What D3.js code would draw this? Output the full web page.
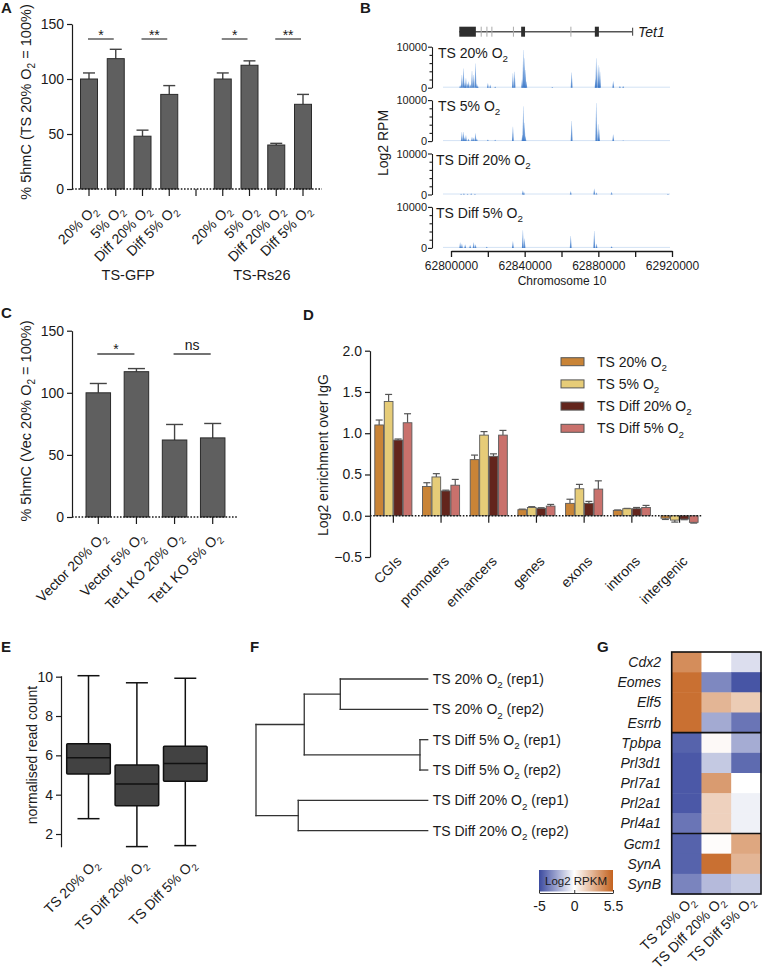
<!DOCTYPE html>
<html>
<head>
<meta charset="utf-8">
<script src="https://cdn.jsdelivr.net/npm/d3@7"></script>
<style>
body { margin: 0; background: #fff; }
svg { display: block; font-family: "Liberation Sans", Arial, Helvetica, sans-serif; }
</style>
</head>
<body>
<svg id="fig" width="763" height="972"></svg>
<script>
// ---- A: 5hmC, TS-GFP / TS-Rs26
const aConditions = ['20% O2', '5% O2', 'Diff 20% O2', 'Diff 5% O2']
const aGroups = ['TS-GFP', 'TS-Rs26']
const aGfpMean = [100, 118.5, 48, 86]
const aGfpErr = [5.5, 8.5, 5.5, 8]
const aRsMean = [100, 112.5, 40, 77]
const aRsErr = [5.5, 4, 1.5, 9]
const aSig = [['*', 0, 1], ['**', 2, 3]]
const aTicks = [0, 50, 100, 150]

// ---- B: Tet1 locus tracks
const bTracks = ['TS 20% O2', 'TS 5% O2', 'TS Diff 20% O2', 'TS Diff 5% O2']
const bStart = 62800000
const bEnd = 62920000
const bTicks = [62800000, 62820000, 62840000, 62860000, 62880000, 62900000, 62920000]
const bTickLabels = [62800000, 62840000, 62880000, 62920000]
const bTrackTicks = [0, 2000, 4000, 6000, 8000, 10000]
// gene model, kb from 62.8 Mb
const tet1Span = [4.5, 98.6]
const tet1Exons = [[4.5, 13.5], [38.1, 40.2], [78.1, 80.3]]
const tet1Small = [16.4, 19.5, 22.2, 33.9, 65.1]
// peaks: [kb from 62.8 Mb, RPM]
const bPeaks20 = [[5.0, 600], [5.9, 3100], [6.8, 4700], [7.5, 1200], [8.1, 2300], [9.0, 1000], [9.6, 1500], [10.5, 800],
  [11.4, 4100], [12.3, 3100], [13.3, 5900], [14.0, 1000], [14.5, 500], [20.0, 1100], [21.3, 700], [24.0, 300],
  [33.6, 3500], [34.5, 3900], [38.6, 2000], [39.3, 9200], [39.9, 7200], [40.4, 4300], [40.9, 1500], [55.0, 200],
  [65.5, 3700], [78.5, 2000], [78.9, 7200], [79.9, 5500], [80.4, 5000], [80.9, 3900], [88.1, 1600], [91.7, 400], [93.5, 400]]
const bPeaks5 = [[5.9, 2200], [6.8, 2200], [7.4, 800], [8.1, 1400], [9.5, 600], [11.4, 1000], [12.3, 800], [13.3, 1900],
  [14.0, 600], [20.0, 400], [24.0, 300], [33.6, 3500], [38.8, 1500], [39.3, 8500], [39.9, 4500], [40.4, 1200],
  [65.5, 4900], [78.9, 9300], [79.9, 4100], [80.4, 2800], [88.1, 1600], [93.5, 200]]
const bPeaksD20 = [[5.5, 200], [7.0, 300], [9.0, 200], [11.0, 300], [13.0, 200], [39.0, 1000], [39.6, 600],
  [65.0, 800], [77.8, 1400], [79.0, 500], [87.2, 600], [117.8, 200]]
const bPeaksD5 = [[5.0, 1300], [5.9, 1000], [7.7, 800], [10.4, 700], [12.3, 1300], [13.3, 800], [19.4, 300],
  [33.6, 1600], [39.0, 4300], [39.9, 2300], [65.0, 2900], [77.8, 4100], [79.0, 1000], [87.2, 400]]

// ---- C: 5hmC, Vector / Tet1 KO
const cConditions = ['Vector 20% O2', 'Vector 5% O2', 'Tet1 KO 20% O2', 'Tet1 KO 5% O2']
const cMean = [100, 117, 62, 63.7]
const cErr = [7.5, 2.5, 12.5, 11.6]
const cSig = [['*', 0, 1], ['ns', 2, 3]]
const cTicks = [0, 50, 100, 150]

// ---- D: enrichment over IgG
const dRegions = ['CGIs', 'promoters', 'enhancers', 'genes', 'exons', 'introns', 'intergenic']
const dSeries = ['TS 20% O2', 'TS 5% O2', 'TS Diff 20% O2', 'TS Diff 5% O2']
const dColors = ['#c98437', '#e6cc78', '#63251c', '#c9716c']
const dTs20 = [1.10, 0.355, 0.68, 0.073, 0.15, 0.065, -0.03]
const dTs20Err = [0.06, 0.045, 0.055, 0.007, 0.05, 0.005, 0.015]
const dTs5 = [1.385, 0.47, 0.977, 0.10, 0.327, 0.085, -0.053]
const dTs5Err = [0.085, 0.04, 0.043, 0.01, 0.053, 0.004, 0.024]
const dDiff20 = [0.917, 0.30, 0.72, 0.089, 0.15, 0.085, -0.04]
const dDiff20Err = [0.013, 0.01, 0.03, 0.008, 0.024, 0.015, 0.008]
const dDiff5 = [1.127, 0.37, 0.977, 0.117, 0.323, 0.10, -0.08]
const dDiff5Err = [0.109, 0.07, 0.057, 0.02, 0.10, 0.025, 0.009]
const dTicks = [-0.5, 0, 0.5, 1, 1.5, 2]

// ---- E: read count boxes
const eGroups = ['TS 20% O2', 'TS Diff 20% O2', 'TS Diff 5% O2']
const eMin = [2.78, 1.36, 1.41]
const eQ1 = [5.05, 3.44, 4.68]
const eMedian = [5.88, 4.54, 5.59]
const eQ3 = [6.59, 5.51, 6.46]
const eMax = [10.05, 9.69, 9.92]
const eTicks = [2, 4, 6, 8, 10]

// ---- F: clustering (hclust style merge table)
const fLeaves = ['TS 20% O2 (rep1)', 'TS 20% O2 (rep2)', 'TS Diff 5% O2 (rep1)', 'TS Diff 5% O2 (rep2)',
  'TS Diff 20% O2 (rep1)', 'TS Diff 20% O2 (rep2)']
const fMerge = [[-1, -2], [-3, -4], [1, 2], [-5, -6], [3, 4]]
const fHeight = [0.509, 0.045, 0.719, 0.754, 1]

// ---- G: heatmap
const gGenes = ['Cdx2', 'Eomes', 'Elf5', 'Esrrb', 'Tpbpa', 'Prl3d1', 'Prl7a1', 'Prl2a1', 'Prl4a1', 'Gcm1', 'SynA', 'SynB']
const gSamples = ['TS 20% O2', 'TS Diff 20% O2', 'TS Diff 5% O2']
const gValues = [
  [4.0, 0, -0.9],
  [5.0, -3.3, -4.7],
  [5.0, 2.6, 1.8],
  [5.0, -2.35, -3.8],
  [-4.3, 0.2, -2.3],
  [-4.6, -1.5, -4.1],
  [-4.6, 3.5, 0],
  [-4.6, 1.6, -0.4],
  [-3.8, 1.6, -0.4],
  [-4.3, 0.1, 3.1],
  [-4.3, 5.0, 2.6],
  [-3.4, -1.9, -1.45]]
const gBreaks = [4, 9]
const gLegendTicks = [-5, 0, 5.5]

const INK = '#1a1a1a'
const svg = d3.select('#fig')
const defs = svg.append('defs')

// text with O2 -> O + subscript 2
function rich(t, str, fs) {
    const parts = str.split('O2')
    let shifted = false
    parts.forEach((p, i) => {
        const last = i === parts.length - 1
        const s = p + (last ? '' : 'O')
        if (s) {
            const ts = t.append('tspan').text(s)
            if (shifted) { ts.attr('dy', -fs * 0.3); shifted = false }
        }
        if (!last) {
            t.append('tspan').attr('dy', fs * 0.3).attr('font-size', fs * 0.7).text('2')
            shifted = true
        }
    })
    return t
}
function label(g, x, y, str, fs, anchor) {
    const t = g.append('text').attr('x', x).attr('y', y).attr('font-size', fs)
        .attr('text-anchor', anchor || 'start').attr('fill', INK).style('white-space', 'pre')
    return rich(t, str, fs)
}
function rotLabel(g, x, y, str, fs, angle) {
    const t = g.append('text').attr('transform', `translate(${x},${y}) rotate(${angle})`)
        .attr('font-size', fs).attr('text-anchor', angle === -90 ? 'middle' : 'end')
        .attr('fill', INK).style('white-space', 'pre')
    return rich(t, str, fs)
}
function yAxis(g, x, scale, ticks, fmt, fs) {
    const ax = g.append('g').attr('transform', `translate(${x},0)`)
        .call(d3.axisLeft(scale).tickValues(ticks).tickFormat(fmt).tickSize(5).tickSizeOuter(0).tickPadding(3))
    ax.attr('font-size', fs).attr('font-family', null)
    ax.selectAll('text').attr('fill', INK)
    ax.selectAll('line,path').attr('stroke', INK).attr('stroke-width', 1.2)
    return ax
}
function zeroLine(g, x0, x1, y) {
    g.append('line').attr('x1', x0).attr('x2', x1).attr('y1', y).attr('y2', y)
        .attr('stroke', INK).attr('stroke-width', 1.3).attr('stroke-dasharray', '1.6 1.6')
}
function letter(x, y, l) {
    svg.append('text').attr('x', x).attr('y', y).attr('font-size', 15).attr('font-weight', 'bold')
        .attr('fill', INK).text(l)
}

// gray bar chart for A and C
function grayBars(g, bars, x, y, barW, capW) {
    const y0 = y(0)
    g.selectAll(null).data(bars).join('line')
        .attr('x1', d => x(d.slot)).attr('x2', d => x(d.slot))
        .attr('y1', d => y(d.mean)).attr('y2', d => y(d.mean + d.err))
        .attr('stroke', '#444').attr('stroke-width', 1.4)
    g.selectAll(null).data(bars).join('line')
        .attr('x1', d => x(d.slot) - capW / 2).attr('x2', d => x(d.slot) + capW / 2)
        .attr('y1', d => y(d.mean + d.err)).attr('y2', d => y(d.mean + d.err))
        .attr('stroke', '#444').attr('stroke-width', 1.4)
    g.selectAll(null).data(bars).join('rect')
        .attr('x', d => x(d.slot) - barW / 2).attr('width', barW)
        .attr('y', d => y(d.mean)).attr('height', d => y0 - y(d.mean))
        .attr('fill', '#5f5f5f').attr('stroke', '#2b2b2b').attr('stroke-width', 1)
}
function sigMarks(g, sigs, x, yLine, yText) {
    sigs.forEach(([s, a, b]) => {
        g.append('line').attr('x1', x(a) - 1).attr('x2', x(b) - 2).attr('y1', yLine).attr('y2', yLine)
            .attr('stroke', '#444').attr('stroke-width', 1.3)
        g.append('text').attr('x', (x(a) + x(b)) / 2 - 1.5).attr('y', s === 'ns' ? yText - 4 : yText)
            .attr('text-anchor', 'middle').attr('font-size', 14).attr('fill', INK).text(s)
    })
}

// ================= A =================
letter(1, 13, 'A')
{
    const g = svg.append('g')
    const y = d3.scaleLinear().domain([0, 150]).range([189, 24])
    const x = d3.scalePoint().domain(d3.range(9)).range([89, 303])
    const bars = []
    aGfpMean.forEach((m, i) => bars.push({ slot: i, mean: m, err: aGfpErr[i], name: aConditions[i] }))
    aRsMean.forEach((m, i) => bars.push({ slot: i + 5, mean: m, err: aRsErr[i], name: aConditions[i] }))
    grayBars(g, bars, x, y, 17, 12)
    yAxis(g, 72, y, aTicks, d3.format('d'), 14)
    zeroLine(g, 72, 322, y(0))
    g.selectAll(null).data(d3.range(9)).join('line')
        .attr('x1', d => x(d)).attr('x2', d => x(d)).attr('y1', y(0)).attr('y2', y(0) + 7)
        .attr('stroke', INK).attr('stroke-width', 1.2)
    bars.forEach(b => rotLabel(g, x(b.slot) + 9, 211, b.name, 14, -45))
    sigMarks(g, aSig, x, 39, 39.5)
    sigMarks(g, aSig.map(([s, a, b]) => [s, a + 5, b + 5]), x, 39, 39.5)
    aGroups.forEach((n, i) => {
        g.append('text').attr('x', (x(i * 5) + x(i * 5 + 3)) / 2 - 1).attr('y', 280)
            .attr('text-anchor', 'middle').attr('font-size', 14.5).attr('fill', INK).text(n)
    })
    rotLabel(g, 31, 102, '% 5hmC (TS 20% O2 = 100%)', 14.5, -90)
}

// ================= B =================
letter(360, 13, 'B')
{
    const g = svg.append('g')
    const x = d3.scaleLinear().domain([bStart, bEnd]).range([451, 672])
    const kb = k => x(bStart + k * 1000)
    const pg = defs.append('linearGradient').attr('id', 'peak').attr('x1', 0).attr('x2', 0).attr('y1', 0).attr('y2', 1)
    pg.append('stop').attr('offset', 0).attr('stop-color', '#a9c8ee')
    pg.append('stop').attr('offset', 1).attr('stop-color', '#2f6fc4')
    // gene model
    const gy = 31.7
    g.append('line').attr('x1', kb(tet1Span[0])).attr('x2', kb(tet1Span[1])).attr('y1', gy).attr('y2', gy)
        .attr('stroke', '#555').attr('stroke-width', 1.6)
    g.append('line').attr('x1', kb(tet1Span[1])).attr('x2', kb(tet1Span[1])).attr('y1', gy - 4).attr('y2', gy + 4)
        .attr('stroke', '#555').attr('stroke-width', 1.2)
    g.selectAll(null).data(tet1Small).join('line')
        .attr('x1', d => kb(d)).attr('x2', d => kb(d)).attr('y1', gy - 5).attr('y2', gy + 5)
        .attr('stroke', '#aaa').attr('stroke-width', 1)
    g.selectAll(null).data(tet1Exons).join('rect')
        .attr('x', d => kb(d[0])).attr('width', d => kb(d[1]) - kb(d[0]))
        .attr('y', gy - 5).attr('height', 10).attr('fill', '#2e2e2e')
    g.append('text').attr('x', 638).attr('y', gy + 5).attr('font-size', 14).attr('font-style', 'italic')
        .attr('fill', INK).text('Tet1')

    const peaks = [bPeaks20, bPeaks5, bPeaksD20, bPeaksD5]
    bTracks.forEach((name, i) => {
        const top = 46.7 + i * 53.4
        const bottom = top + 41
        const y = d3.scaleLinear().domain([0, 10000]).range([bottom, top])
        // faint coverage floor
        g.append('line').attr('x1', 443).attr('x2', 670).attr('y1', bottom - 0.5).attr('y2', bottom - 0.5)
            .attr('stroke', '#d3e2f4').attr('stroke-width', 1)
        g.selectAll(null).data(peaks[i]).join('path')
            .attr('d', d => {
                const px = kb(d[0])
                return `M${px - 0.9},${bottom}L${px - 0.2},${y(d[1])}L${px + 0.2},${y(d[1])}L${px + 0.9},${bottom}Z`
            })
            .attr('fill', 'url(#peak)').attr('fill-opacity', 0.85)
        const ax = g.append('g').attr('transform', 'translate(432,0)')
            .call(d3.axisLeft(y).tickValues(bTrackTicks).tickSize(3).tickSizeOuter(0).tickPadding(2)
                .tickFormat(d => (d === 0 || d === 10000) ? d : ''))
        ax.attr('font-size', 11).attr('font-family', null)
        ax.selectAll('text').attr('fill', INK)
        ax.selectAll('line,path').attr('stroke', INK).attr('stroke-width', 1.1)
        ax.selectAll('.tick line').attr('x2', d => (d === 0 || d === 10000) ? -4 : -2.5)
        label(g, i < 2 ? 438 : 436, top + 11, name, 14)
    })
    // genomic axis
    const ay = 251
    const ax = g.append('g').attr('transform', `translate(0,${ay})`)
        .call(d3.axisBottom(x).tickValues(bTicks).tickSize(6).tickSizeOuter(0).tickPadding(4)
            .tickFormat(d => bTickLabels.includes(d) ? d : ''))
    ax.attr('font-size', 12).attr('font-family', null)
    ax.selectAll('text').attr('fill', INK)
    ax.selectAll('line,path').attr('stroke', INK).attr('stroke-width', 1.3)
    g.append('text').attr('x', 562).attr('y', 285).attr('text-anchor', 'middle').attr('font-size', 12)
        .attr('fill', INK).text('Chromosome 10')
    rotLabel(g, 388, 143, 'Log2 RPM', 14, -90)
}

// ================= C =================
letter(1, 318, 'C')
{
    const g = svg.append('g')
    const y = d3.scaleLinear().domain([0, 150]).range([517, 330.7])
    const x = d3.scalePoint().domain(d3.range(4)).range([98.3, 212.7])
    const bars = cMean.map((m, i) => ({ slot: i, mean: m, err: cErr[i], name: cConditions[i] }))
    grayBars(g, bars, x, y, 24.5, 17)
    yAxis(g, 72, y, cTicks, d3.format('d'), 14)
    zeroLine(g, 72, 238, y(0))
    g.selectAll(null).data(d3.range(4)).join('line')
        .attr('x1', d => x(d)).attr('x2', d => x(d)).attr('y1', y(0)).attr('y2', y(0) + 7)
        .attr('stroke', INK).attr('stroke-width', 1.2)
    bars.forEach(b => rotLabel(g, x(b.slot) + 9, 538, b.name, 14, -45))
    sigMarks(g, cSig, x, 354, 354)
    rotLabel(g, 31, 421, '% 5hmC (Vec 20% O2 = 100%)', 14.5, -90)
}

// ================= D =================
letter(303, 320, 'D')
{
    const g = svg.append('g')
    const means = [dTs20, dTs5, dDiff20, dDiff5]
    const errs = [dTs20Err, dTs5Err, dDiff20Err, dDiff5Err]
    const y = d3.scaleLinear().domain([-0.5, 2]).range([557, 350.7])
    const x = d3.scaleBand().domain(dRegions).range([369.5, 703.4])
    const xi = d3.scaleBand().domain(d3.range(4)).range([5.3, 42.4]).paddingInner(0.08)
    const bars = dRegions.flatMap((r, i) => means.map((m, s) => ({ r, s, v: m[i], e: errs[s][i] })))
    const cx = d => x(d.r) + xi(d.s) + xi.bandwidth() / 2
    const tip = d => y(d.v >= 0 ? d.v + d.e : d.v - d.e)
    g.selectAll(null).data(bars).join('line')
        .attr('x1', cx).attr('x2', cx).attr('y1', d => y(d.v)).attr('y2', tip)
        .attr('stroke', '#555').attr('stroke-width', 1.2)
    g.selectAll(null).data(bars).join('line')
        .attr('x1', d => cx(d) - 3.5).attr('x2', d => cx(d) + 3.5).attr('y1', tip).attr('y2', tip)
        .attr('stroke', '#555').attr('stroke-width', 1.2)
    g.selectAll(null).data(bars).join('rect')
        .attr('x', d => x(d.r) + xi(d.s)).attr('width', xi.bandwidth())
        .attr('y', d => y(Math.max(0, d.v))).attr('height', d => Math.abs(y(d.v) - y(0)))
        .attr('fill', d => dColors[d.s]).attr('stroke', '#5a5a5a').attr('stroke-width', 0.9)
    yAxis(g, 370, y, dTicks, d3.format('.1f'), 14)
    zeroLine(g, 370, 702, y(0))
    g.selectAll(null).data(dRegions).join('line')
        .attr('x1', d => x(d) + x.bandwidth() / 2).attr('x2', d => x(d) + x.bandwidth() / 2)
        .attr('y1', y(0)).attr('y2', y(0) + 7).attr('stroke', INK).attr('stroke-width', 1.2)
    dRegions.forEach(r => rotLabel(g, x(r) + x.bandwidth() / 2 + 9, 562, r, 14, -45))
    rotLabel(g, 328, 455, 'Log2 enrichment over IgG', 14, -90)
    // legend
    dSeries.forEach((s, i) => {
        const ly = 361.7 + i * 22.2
        g.append('rect').attr('x', 561).attr('y', ly - 4).attr('width', 23).attr('height', 8)
            .attr('fill', dColors[i]).attr('stroke', '#555').attr('stroke-width', 1)
        label(g, 597, ly + 5, s, 14)
    })
}

// ================= E =================
letter(1, 652, 'E')
{
    const g = svg.append('g')
    const y = d3.scaleLinear().domain([1.35, 10.05]).range([846.8, 675.7])
    const x = d3.scalePoint().domain(eGroups).range([88.5, 185.3])
    const bw = 43.6, cap = 22
    const boxes = eGroups.map((n, i) => ({ n, lo: eMin[i], q1: eQ1[i], med: eMedian[i], q3: eQ3[i], hi: eMax[i] }))
    const line = (sel) => sel.attr('stroke', '#111').attr('stroke-width', 1.5)
    g.selectAll(null).data(boxes).join('line').call(line)
        .attr('x1', d => x(d.n)).attr('x2', d => x(d.n)).attr('y1', d => y(d.hi)).attr('y2', d => y(d.lo))
    g.selectAll(null).data(boxes.flatMap(d => [[d.n, d.hi], [d.n, d.lo]])).join('line').call(line)
        .attr('x1', d => x(d[0]) - cap / 2).attr('x2', d => x(d[0]) + cap / 2)
        .attr('y1', d => y(d[1])).attr('y2', d => y(d[1]))
    g.selectAll(null).data(boxes).join('rect')
        .attr('x', d => x(d.n) - bw / 2).attr('width', bw)
        .attr('y', d => y(d.q3)).attr('height', d => y(d.q1) - y(d.q3))
        .attr('fill', '#424242').attr('stroke', '#111').attr('stroke-width', 1.5).attr('rx', 1)
    g.selectAll(null).data(boxes).join('line').call(line)
        .attr('x1', d => x(d.n) - bw / 2).attr('x2', d => x(d.n) + bw / 2)
        .attr('y1', d => y(d.med)).attr('y2', d => y(d.med))
    yAxis(g, 61, y, eTicks, d3.format('d'), 14)
    eGroups.forEach(n => rotLabel(g, x(n) + 11, 865, n, 14, -45))
    rotLabel(g, 37, 755, 'normalised read count', 14, -90)
}

// ================= F =================
letter(250, 652, 'F')
{
    const g = svg.append('g')
    const leafY = d3.scalePoint().domain(d3.range(fLeaves.length)).range([679, 830.7])
    const xh = d3.scaleLinear().domain([0, 1]).range([427.7, 256])
    // build nodes from merge table
    const nodes = []
    const get = k => k < 0 ? { h: 0, y: leafY(-k - 1) } : nodes[k - 1]
    fMerge.forEach(([a, b], i) => {
        const A = get(a), B = get(b)
        nodes.push({ h: fHeight[i], y: (A.y + B.y) / 2, kids: [A, B] })
    })
    const segs = []
    nodes.forEach(n => {
        segs.push([xh(n.h), n.kids[0].y, xh(n.h), n.kids[1].y])
        n.kids.forEach(k => segs.push([xh(n.h), k.y, xh(k.h), k.y]))
    })
    g.selectAll(null).data(segs).join('line')
        .attr('x1', d => d[0]).attr('y1', d => d[1]).attr('x2', d => d[2]).attr('y2', d => d[3])
        .attr('stroke', '#333').attr('stroke-width', 1.3).attr('stroke-linecap', 'square')
    fLeaves.forEach((n, i) => label(g, 432.7, leafY(i) + 5, n, 14))
}

// ================= G =================
letter(597, 652, 'G')
{
    const g = svg.append('g')
    const x = d3.scaleBand().domain(gSamples).range([671.7, 761])
    const y = d3.scaleBand().domain(gGenes).range([652, 894])
    const color = d3.scaleLinear().domain([-5, 0, 5.5]).range(['#3b4a9f', '#ffffff', '#c4621e'])
    const cells = gGenes.flatMap((gene, r) => gSamples.map((s, c) => ({ gene, s, v: gValues[r][c] })))
    g.selectAll(null).data(cells).join('rect')
        .attr('x', d => x(d.s)).attr('y', d => y(d.gene))
        .attr('width', x.bandwidth() + 0.5).attr('height', y.bandwidth() + 0.5)
        .attr('fill', d => color(d.v))
    g.append('rect').attr('x', 671.7).attr('y', 652).attr('width', 761 - 671.7).attr('height', 894 - 652)
        .attr('fill', 'none').attr('stroke', '#111').attr('stroke-width', 1.6)
    gBreaks.forEach(b => {
        const by = y(gGenes[b])
        g.append('line').attr('x1', 671.7).attr('x2', 761).attr('y1', by).attr('y2', by)
            .attr('stroke', '#111').attr('stroke-width', 1.6)
    })
    gGenes.forEach(n => {
        g.append('text').attr('x', 661).attr('y', y(n) + y.bandwidth() / 2 + 5)
            .attr('text-anchor', 'end').attr('font-size', 14).attr('font-style', 'italic')
            .attr('fill', INK).text(n)
    })
    gSamples.forEach(s => rotLabel(g, x(s) + x.bandwidth() / 2 + 9, 902, s, 14, -45))

    // colour key
    const lx = d3.scaleLinear().domain([-5, 5.5]).range([539, 613])
    const grad = defs.append('linearGradient').attr('id', 'gkey')
    gLegendTicks.forEach(t => grad.append('stop')
        .attr('offset', (t + 5) / 10.5).attr('stop-color', color(t)))
    g.append('rect').attr('x', 539).attr('y', 870).attr('width', 74).attr('height', 21.5)
        .attr('fill', 'url(#gkey)')
    g.append('text').attr('x', 576).attr('y', 885).attr('text-anchor', 'middle').attr('font-size', 11.5)
        .attr('fill', INK).text('Log2 RPKM')
    const ax = g.append('g').attr('transform', 'translate(0,893)')
        .call(d3.axisBottom(lx).tickValues(gLegendTicks).tickSize(-3).tickSizeOuter(0).tickPadding(8)
            .tickFormat(d => d))
    ax.attr('font-size', 14).attr('font-family', null)
    ax.selectAll('text').attr('fill', INK)
    ax.selectAll('line,path').attr('stroke', '#333').attr('stroke-width', 1)
}
</script>
</body>
</html>
